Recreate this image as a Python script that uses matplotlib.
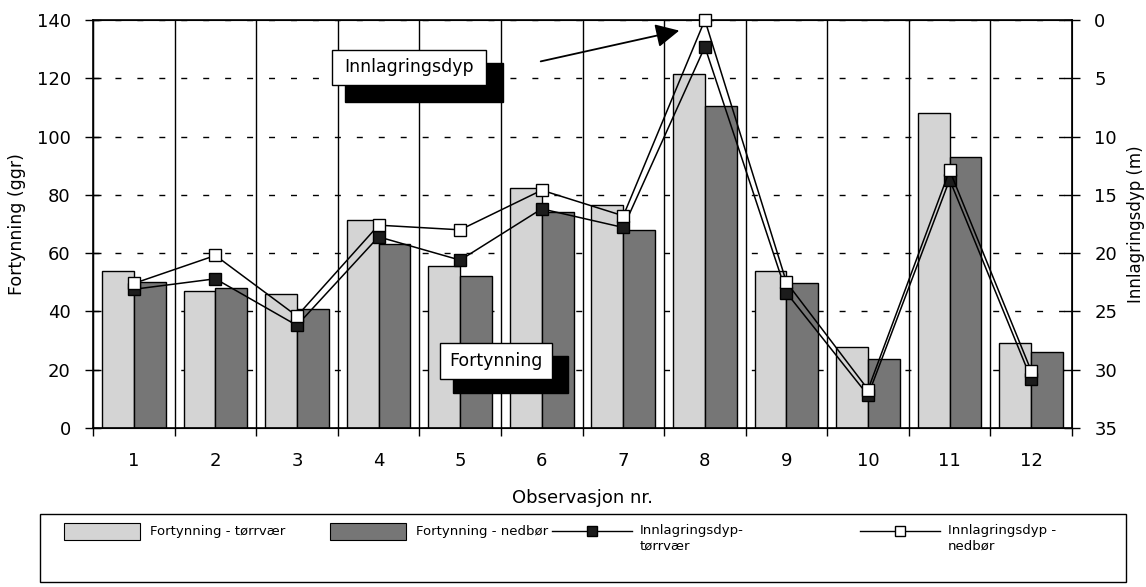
import matplotlib
matplotlib.use('Agg')
import matplotlib.pyplot as plt
from matplotlib.patches import Rectangle, FancyArrowPatch
from matplotlib.lines import Line2D
import numpy as np

# data
obs = list(range(1, 13))
fort_torr = [54, 47, 46, 71.5, 55.5, 82.5, 76.5, 121.5, 54, 27.7, 108, 29]
fort_ned = [50, 48, 41, 63, 52.2, 74, 68, 110.5, 49.7, 23.7, 93, 26]
dyp_torr = [23.1, 22.2, 26.2, 18.6, 20.6, 16.2, 17.8, 2.3, 23.4, 32.2, 13.7, 30.8]
dyp_ned = [22.6, 20.2, 25.4, 17.6, 18.0, 14.6, 16.8, 0, 22.5, 31.7, 12.9, 30.1]
left_ticks = list(range(0, 141, 20))
right_ticks = list(range(0, 36, 5))

W, H = 1146, 587
LIGHT = '#d4d4d4'
DARK = '#767676'


def px(x, y):
    # pixel position (top-left origin) -> figure fraction
    return x / W, 1 - y / H


plt.rcParams['font.family'] = ['DejaVu Sans']
fig = plt.figure(figsize=(W / 100, H / 100), dpi=100)
ax = fig.add_axes([93 / W, 1 - 428 / H, (1072 - 93) / W, (428 - 20) / H])

x = np.array(obs)
w = 0.39
ax.bar(x - w / 2, fort_torr, w, color=LIGHT, edgecolor='black', linewidth=1, zorder=2)
ax.bar(x + w / 2, fort_ned, w, color=DARK, edgecolor='black', linewidth=1, zorder=2)

ax.set_xlim(0.5, 12.5)
ax.set_ylim(0, 140)
ax.set_yticks(left_ticks)
ax.set_xticks(np.arange(0.5, 12.6, 1))
ax.set_xticklabels([])
ax.set_xticks(x, minor=True)
ax.set_xticklabels([str(i) for i in obs], minor=True)
ax.tick_params(axis='x', which='minor', length=0, pad=17, labelsize=13)
ax.tick_params(axis='x', which='major', direction='out', length=6, width=1)
ax.tick_params(axis='y', direction='inout', length=12, width=1, pad=10, labelsize=13)
ax.xaxis.grid(True, which='major', color='black', linewidth=1)
ax.yaxis.grid(True, color='black', linewidth=1, linestyle=(0, (4.3, 11.5)))
ax.set_axisbelow(True)
for s in ax.spines.values():
    s.set_linewidth(1.2)

ax.set_ylabel('Fortynning (ggr)', fontsize=12.5)
ax.yaxis.set_label_coords(-0.068, 0.5)
ax.set_xlabel('Observasjon nr.', fontsize=13)
ax.xaxis.set_label_coords(0.5, -0.15)

ax2 = ax.twinx()
ax2.set_ylim(35, 0)
ax2.set_yticks(right_ticks)
ax2.tick_params(axis='y', direction='inout', length=12, width=1, pad=10, labelsize=13)
ax2.plot(x, dyp_torr, color='black', lw=1.1, marker='s', ms=8,
         mfc='#1c1c1c', mec='black', clip_on=False, zorder=3)
ax2.plot(x, dyp_ned, color='black', lw=1.1, marker='s', ms=8,
         mfc='white', mec='black', mew=1, clip_on=False, zorder=4)
ax2.set_ylabel('Innlagringsdyp (m)', fontsize=12)
ax2.yaxis.set_label_coords(1.056, 0.5)

# callout boxes with drop shadow
def callout(text, box, shadow):
    for (a0, b0, a1, b1), fc in ((shadow, 'black'), (box, 'white')):
        fx, fy = px(a0, b1)
        fig.patches.append(Rectangle((fx, fy), (a1 - a0) / W, (b1 - b0) / H,
                                     transform=fig.transFigure, facecolor=fc,
                                     edgecolor='black', linewidth=1, zorder=5))
    tx, ty = px((box[0] + box[2]) / 2, (box[1] + box[3]) / 2)
    fig.text(tx, ty, text, ha='center', va='center', fontsize=12.5, zorder=6)


callout('Innlagringsdyp', (332, 50, 486, 85), (345, 63, 503, 102))
callout('Fortynning', (440, 343, 552, 379), (453, 356, 568, 393))

fig.add_artist(FancyArrowPatch(
    px(538, 62), px(682, 30), transform=fig.transFigure,
    arrowstyle='-|>', mutation_scale=36, lw=1.3, color='black', zorder=6))

# legend drawn in figure space
fx, fy = px(40, 582)
fig.patches.append(Rectangle((fx, fy), (1126 - 40) / W, (582 - 514) / H,
                             transform=fig.transFigure, fill=False,
                             edgecolor='black', linewidth=1))
for x0, fc, label in ((64, LIGHT, 'Fortynning - tørrvær'), (330, DARK, 'Fortynning - nedbør')):
    fx, fy = px(x0, 540)
    fig.patches.append(Rectangle((fx, fy), 76 / W, 17 / H, transform=fig.transFigure,
                                 facecolor=fc, edgecolor='black', linewidth=0.8))
    tx, ty = px(x0 + 86, 532)
    fig.text(tx, ty, label, ha='left', va='center', fontsize=9.5)

for x0, mfc, label in ((552, '#1c1c1c', 'Innlagringsdyp-\ntørrvær'),
                       (860, 'white', 'Innlagringsdyp -\nnedbør')):
    (ax0, ay), (ax1, _) = px(x0, 531), px(x0 + 80, 531)
    fig.add_artist(Line2D([ax0, ax1], [ay, ay], transform=fig.transFigure,
                          color='black', lw=1))
    fig.add_artist(Line2D([(ax0 + ax1) / 2], [ay], transform=fig.transFigure,
                          marker='s', ms=7, mfc=mfc, mec='black', lw=0))
    tx, ty = px(x0 + 88, 524)
    fig.text(tx, ty, label, ha='left', va='top', fontsize=9.5, linespacing=1.3)

fig.savefig('out.png', dpi=100)
